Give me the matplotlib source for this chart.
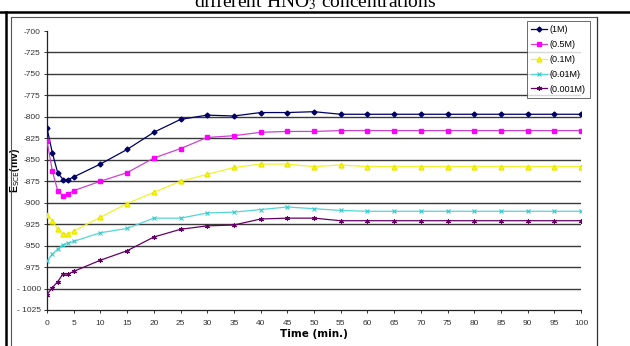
import numpy as np
import matplotlib.pyplot as plt
from matplotlib.lines import Line2D

# Temps (min) et potentiels (mV vs ECS) pour chaque concentration de HNO3
t = [0, 1, 2, 3, 4, 5, 10, 15, 20, 25, 30, 35, 40, 45, 50,
     55, 60, 65, 70, 75, 80, 85, 90, 95, 100]

e_1M = [-813, -842, -865, -873, -873, -870, -855, -838, -818, -803, -798, -799, -795,
        -795, -794, -797, -797, -797, -797, -797, -797, -797, -797, -797, -797]
e_05M = [-828, -863, -886, -892, -890, -886, -875, -865, -848, -837, -824, -822, -818,
         -817, -817, -816, -816, -816, -816, -816, -816, -816, -816, -816, -816]
e_01M = [-914, -921, -931, -937, -936, -933, -917, -901, -888, -875, -867, -859, -855,
         -855, -858, -856, -858, -858, -858, -858, -858, -858, -858, -858, -858]
e_001M = [-968, -960, -954, -949, -947, -945, -935, -930, -918, -918, -912, -911, -908,
          -905, -907, -909, -910, -910, -910, -910, -910, -910, -910, -910, -910]
e_0001M = [-1007, -999, -992, -983, -983, -980, -967, -956, -940, -931, -927, -926, -919,
           -918, -918, -921, -921, -921, -921, -921, -921, -921, -921, -921, -921]

labels = ["(1M)", "(0.5M)", "(0.1M)", "(0.01M)", "(0.001M)"]

yticks = np.arange(-1025, -699, 25)
ytick_labels = ["- 1025", "- 1000"] + [str(v) for v in yticks[2:]]
xticks = np.arange(0, 101, 5)

plt.rcParams['font.family'] = ['Liberation Sans Narrow', 'Liberation Sans', 'DejaVu Sans']

fig = plt.figure(figsize=(6.3, 3.46), dpi=100)
W, H = 630, 346

def px(x, y):
    return x / W, 1 - y / H

# cadre de la page + titre (coupé en haut)
fig.add_artist(Line2D([0, 1], [px(0, 12)[1]] * 2, color='black', lw=1.8))
fig.add_artist(Line2D([px(6, 0)[0]] * 2, [0, px(0, 12)[1]], color='black', lw=1.8))
fig.add_artist(Line2D([px(11, 0)[0]] * 2, [0, px(0, 17)[1]], color='#555555', lw=0.8))
fig.add_artist(Line2D([px(597, 0)[0]] * 2, [0, px(0, 17)[1]], color='#333333', lw=0.9))
fig.add_artist(Line2D([px(11, 0)[0], px(597, 0)[0]], [px(0, 17)[1]] * 2,
                      color='#555555', lw=0.8))
fig.text(0.5, px(0, 7.5)[1], "different HNO$_3$ concentrations", ha='center',
         va='baseline', fontsize=14, family='Liberation Serif',
         math_fontfamily='stix')

ax = fig.add_axes([47 / W, 1 - 310 / H, (581 - 47) / W, 279 / H])
ax.set_xlim(0, 100)
ax.set_ylim(-1025, -700)
for s in ['top', 'right']:
    ax.spines[s].set_visible(False)
for s in ['left', 'bottom']:
    ax.spines[s].set_color('#222222')
    ax.spines[s].set_linewidth(0.9)

for v in yticks[1:-1]:
    ax.axhline(v, color='#3a3a3a', lw=1.0, zorder=1)

ax.plot(t, e_1M, color='#000066', lw=0.9, marker='D', ms=2.5, label=labels[0], zorder=3)
ax.plot(t, e_05M, color='#cc44cc', lw=0.9, marker='s', ms=3.2, mfc='#ff00ff',
        mec='#ff00ff', label=labels[1], zorder=3)
ax.plot(t, e_01M, color='#f2f230', lw=0.9, marker='^', ms=3.5, mfc='#ffff00',
        mec='#e8e800', label=labels[2], zorder=3)
ax.plot(t, e_001M, color='#55d5d5', lw=0.9, marker='x', ms=3, mew=0.8,
        mec='#33cccc', label=labels[3], zorder=3)
ax.plot(t, e_0001M, color='#660066', lw=0.9, marker=(6, 2, 0), ms=3.5, mew=0.8,
        label=labels[4], zorder=3)

ax.set_xticks(xticks)
ax.set_yticks(yticks)
ax.set_yticklabels(ytick_labels)
ax.tick_params(labelsize=6, length=2.5, width=0.7, color='#333333',
               labelcolor='#333333')
ax.tick_params(axis='y', pad=2)
ax.tick_params(axis='x', pad=4.5)
ax.set_xlabel("Time (min.)", fontsize=7.5, fontweight='bold',
              family='Liberation Sans Narrow')
ax.xaxis.set_label_coords(0.5, -19 / 279)
ax.set_ylabel("E$_{\\mathrm{SCE}}$(mv)", fontsize=7.5, fontweight='bold',
              family='Liberation Sans')
ax.yaxis.set_label_coords(-25 / 534, 0.5)

leg = ax.legend(loc='upper right', bbox_to_anchor=((590 - 47) / 534, 1 + 10 / 279),
                borderaxespad=0, fontsize=6.5, frameon=True, fancybox=False,
                edgecolor='#444444', handlelength=1.8, labelspacing=0.65,
                borderpad=0.45, handletextpad=0.3)
leg.get_frame().set_linewidth(0.7)

fig.savefig("out.png", dpi=100)
